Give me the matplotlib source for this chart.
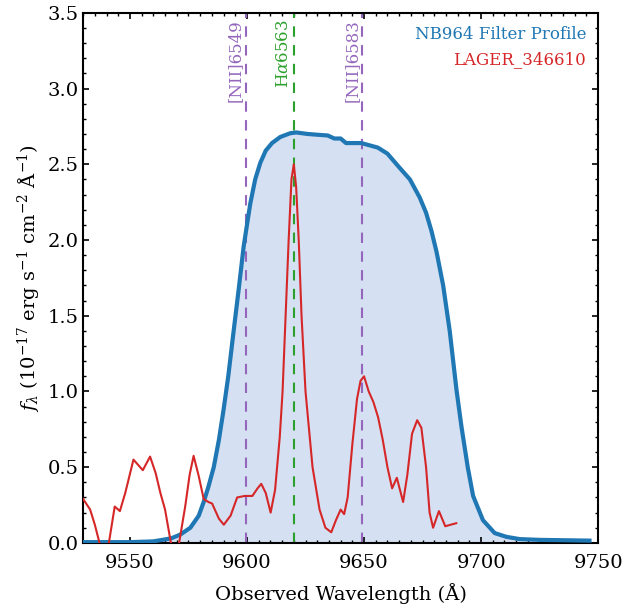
import matplotlib
matplotlib.use('Agg')
from matplotlib import pyplot as plt
from matplotlib.ticker import MultipleLocator

plt.rcParams['font.family'] = 'serif'
plt.rcParams['font.serif'] = ['DejaVu Serif']
plt.rcParams['mathtext.fontset'] = 'dejavuserif'

# NB964 filter transmission (scaled to flux units)
filter_wl = [9530, 9550, 9560, 9567.6, 9571.5, 9575.8, 9579.4, 9581.5, 9583.5, 9585.8,
             9588, 9590, 9592, 9594.3, 9596.5, 9598.6, 9601.4, 9603.5, 9605.7, 9608,
             9610.7, 9614.2, 9618.5, 9621, 9625.9, 9630, 9634.5, 9637.3, 9640, 9642.3,
             9648.8, 9655.9, 9660, 9665.3, 9669.6, 9673.8, 9676.5, 9678.8, 9681, 9683.8,
             9686.6, 9689.5, 9691.6, 9694.3, 9696.6, 9700.8, 9705.8, 9710.8, 9716.5, 9725,
             9746.3]
filter_flux = [0.005, 0.005, 0.01, 0.03, 0.055, 0.10, 0.18, 0.27, 0.37, 0.50,
               0.68, 0.88, 1.1, 1.40, 1.68, 1.96, 2.24, 2.40, 2.51, 2.59,
               2.64, 2.68, 2.705, 2.71, 2.70, 2.695, 2.69, 2.67, 2.67, 2.64,
               2.64, 2.61, 2.57, 2.475, 2.40, 2.28, 2.18, 2.06, 1.92, 1.70,
               1.40, 1.01, 0.77, 0.5, 0.31, 0.15, 0.065, 0.04, 0.025, 0.02,
               0.015]

# LAGER_346610 spectrum
spec_wl = [9530, 9533, 9535, 9537, 9539, 9541, 9543.5, 9545.7, 9548, 9551.5,
           9555.5, 9558.6, 9561, 9563, 9565, 9567.5, 9569, 9571, 9573.6, 9575.5,
           9577.2, 9579.4, 9581.5, 9583.5, 9585.1, 9588, 9590.1, 9593, 9595.8, 9599,
           9602.3, 9604.5, 9606.1, 9608, 9610.1, 9612, 9614, 9615.2, 9616.5, 9617.8,
           9619, 9620, 9621, 9622.1, 9623.3, 9625, 9628, 9631, 9633.5, 9636,
           9638, 9640, 9641.5, 9643, 9645, 9647, 9648.5, 9650, 9652, 9654,
           9656, 9658, 9660, 9662, 9664, 9666.7, 9668.5, 9670.5, 9672.7, 9674.5,
           9676.5, 9678, 9679.5, 9682, 9684.7, 9687, 9689.4]
spec_flux = [0.29, 0.22, 0.12, 0.0, -0.06, 0.0, 0.24, 0.21, 0.33, 0.55,
             0.48, 0.57, 0.46, 0.33, 0.22, 0.0, -0.08, 0.0, 0.24, 0.45,
             0.575, 0.44, 0.29, 0.27, 0.26, 0.16, 0.12, 0.18, 0.30, 0.31,
             0.31, 0.36, 0.39, 0.33, 0.20, 0.35, 0.7, 1.0, 1.5, 2.0,
             2.4, 2.5, 2.35, 2.0, 1.5, 1.0, 0.5, 0.22, 0.1, 0.07,
             0.15, 0.22, 0.19, 0.3, 0.65, 0.95, 1.07, 1.10, 1.0, 0.93,
             0.83, 0.68, 0.5, 0.36, 0.43, 0.27, 0.45, 0.72, 0.81, 0.76,
             0.5, 0.2, 0.10, 0.21, 0.11, 0.12, 0.13]

# emission lines (observed positions)
line_wl = [9599.4, 9620.0, 9649.2]
line_names = ['[NII]6549', r'H$\alpha$6563', '[NII]6583']
line_colors = ['#9467bd', '#2ca02c', '#9467bd']

fig = plt.figure(figsize=(6.25, 6.1), dpi=100)
ax = fig.add_axes([0.133, 0.11, 0.824, 0.869])

ax.fill_between(filter_wl, filter_flux, 0, color='#d5e0f2', zorder=1)
ax.plot(filter_wl, filter_flux, color='#1f77b4', lw=3, zorder=3)
ax.plot(spec_wl, spec_flux, color='#d62728', lw=1.5, zorder=4)

for wl, name, c in zip(line_wl, line_names, line_colors):
    ax.axvline(wl, color=c, ls='--', lw=1.5, dashes=(5, 4), zorder=2)
    ax.text(wl - 0.6, 3.46, name, color=c, rotation=90, ha='right', va='top', fontsize=12)

ax.text(0.977, 0.96, 'NB964 Filter Profile', color='#1f77b4', transform=ax.transAxes,
        ha='right', va='center', fontsize=12)
ax.text(0.977, 0.911, 'LAGER_346610', color='#d62728', transform=ax.transAxes,
        ha='right', va='center', fontsize=12)

ax.set_xlim(9530, 9750)
ax.set_ylim(0, 3.5)
ax.xaxis.set_major_locator(MultipleLocator(50))
ax.xaxis.set_minor_locator(MultipleLocator(5))
ax.yaxis.set_major_locator(MultipleLocator(0.5))
ax.yaxis.set_minor_locator(MultipleLocator(0.1))
ax.tick_params(which='both', direction='in', top=True, right=True, labelsize=14)
ax.tick_params(which='major', length=4.5, width=1.2)
ax.tick_params(which='minor', length=2.5, width=1)
ax.tick_params(axis='x', which='major', pad=8)
for s in ax.spines.values():
    s.set_linewidth(1.5)

ax.set_xlabel('Observed Wavelength (Å)', fontsize=14, labelpad=8)
ax.set_ylabel(r'$f_\lambda$ ($10^{-17}$ erg s$^{-1}$ cm$^{-2}$ Å$^{-1}$)', fontsize=14)

fig.savefig('out.png', dpi=100)
